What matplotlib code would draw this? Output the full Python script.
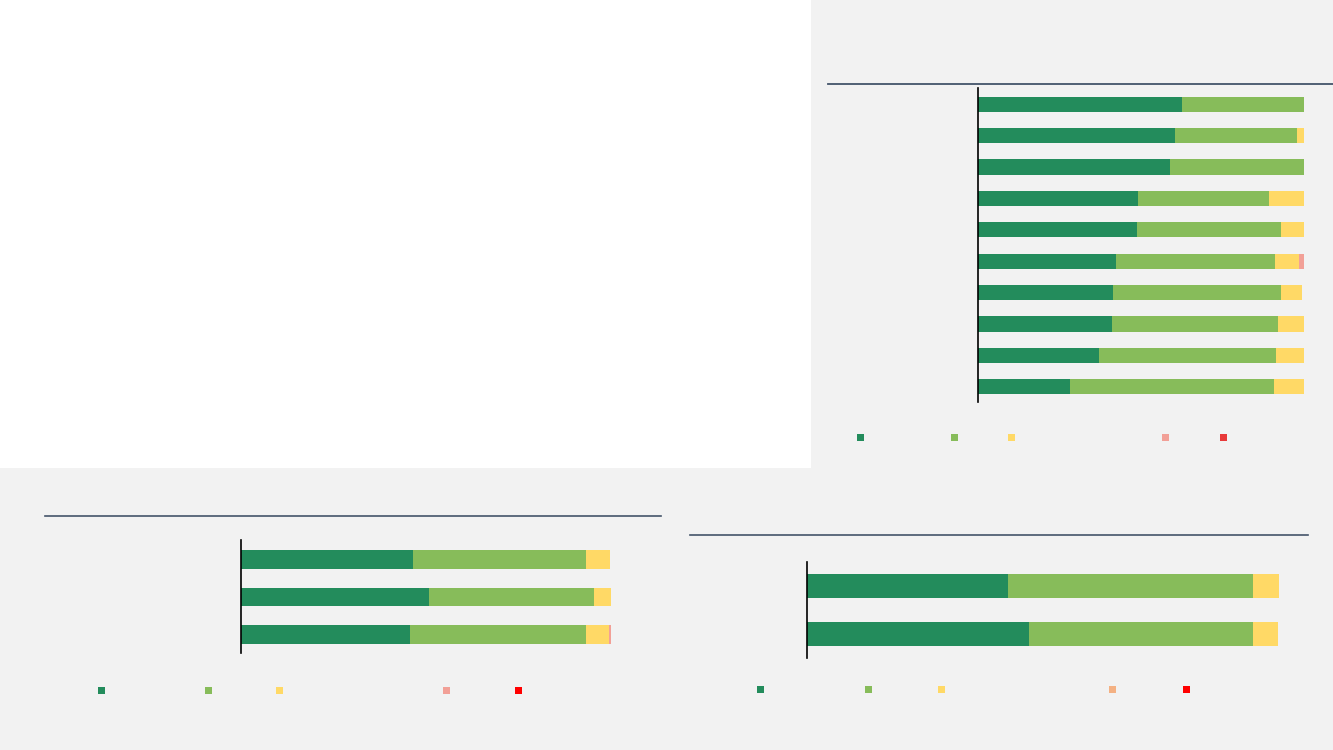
import matplotlib
matplotlib.use("Agg")
import matplotlib.pyplot as plt
from matplotlib.patches import Rectangle
from matplotlib.lines import Line2D
import numpy as np

W, H = 1333, 750

# Share of responses per rating level (percent), one list per level
# Panel A: ten rows
a_very_good = [62.6, 60.4, 58.9, 49.1, 48.8, 42.3, 41.4, 41.1, 37.1, 28.2]
a_good      = [37.4, 37.5, 41.1, 40.2, 44.2, 48.9, 51.5, 51.0, 54.3, 62.6]
a_neutral   = [0.0, 2.1, 0.0, 10.7, 7.0, 7.3, 6.5, 7.9, 8.6, 9.2]
a_poor      = [0.0, 0.0, 0.0, 0.0, 0.0, 1.5, 0.0, 0.0, 0.0, 0.0]
a_very_poor = [0.0] * 10

# Panel B: three rows
b_very_good = [46.5, 50.8, 45.7]
b_good      = [47.0, 44.6, 47.8]
b_neutral   = [6.3, 4.6, 6.0]
b_poor      = [0.0, 0.0, 0.5]
b_very_poor = [0.0, 0.0, 0.0]

# Panel C: two rows
c_very_good = [42.6, 46.9]
c_good      = [51.8, 47.5]
c_neutral   = [5.6, 5.3]
c_poor      = [0.0, 0.0]
c_very_poor = [0.0, 0.0]

DARK = "#238c5c"
GREEN = "#87bc5a"
YELLOW = "#ffd966"
BG = "#f2f2f2"
RULE = "#44546a"

fig = plt.figure(figsize=(W / 100, H / 100), dpi=100, facecolor=BG)


def fx(x):
    return x / W


def fy(y):
    return 1 - y / H


# white panel in the upper-left corner
fig.add_artist(Rectangle((0, fy(468)), fx(811), 468 / H, transform=fig.transFigure,
                         facecolor="white", edgecolor="none", zorder=0))


def stacked_panel(rect_px, series, colors, bar_h):
    x0, y0, x1, y1 = rect_px
    ax = fig.add_axes([fx(x0), fy(y1), fx(x1) - fx(x0), (y1 - y0) / H])
    ax.set_facecolor("none")
    n = len(series[0])
    pos = np.arange(n)
    left = np.zeros(n)
    for vals, col in zip(series, colors):
        vals = np.asarray(vals, dtype=float)
        ax.barh(pos, vals, left=left, height=bar_h, color=col, edgecolor="none")
        left += vals
    ax.set_xlim(0, 100)
    ax.set_ylim(n - 0.5, -0.5)
    for s in ["top", "right", "bottom"]:
        ax.spines[s].set_visible(False)
    ax.spines["left"].set_color("black")
    ax.spines["left"].set_linewidth(1.2)
    ax.set_xticks([])
    ax.set_yticks([])
    return ax


def rule(x0, x1, y, lw=1.3):
    fig.add_artist(Line2D([fx(x0), fx(x1)], [fy(y), fy(y)], transform=fig.transFigure,
                          color=RULE, linewidth=lw))


def legend_squares(xs, y, colors, size=7):
    for x, c in zip(xs, colors):
        fig.add_artist(Rectangle((fx(x - size / 2), fy(y + size / 2)), size / W, size / H,
                                 transform=fig.transFigure, facecolor=c, edgecolor="none"))


# Panel A (upper right)
cols_a = [DARK, GREEN, YELLOW, "#f2a097", "#e83a3a"]
stacked_panel((978, 88.5, 1304, 402.5),
              [a_very_good, a_good, a_neutral, a_poor, a_very_poor], cols_a, 0.48)
rule(828, 1333, 84)
legend_squares([860.5, 954, 1011, 1165.5, 1223.5], 437.5, cols_a)

# Panel B (lower left)
cols_b = [DARK, GREEN, YELLOW, "#f2a097", "#ff0000"]
stacked_panel((241, 540.5, 610.5, 653.5),
              [b_very_good, b_good, b_neutral, b_poor, b_very_poor], cols_b, 0.49)
rule(45, 661, 515.5, lw=1.2)
legend_squares([101.5, 208.5, 279, 446.5, 518.5], 690.5, cols_b)

# Panel C (lower right)
cols_c = [DARK, GREEN, YELLOW, "#f4b183", "#ff0000"]
stacked_panel((807.5, 562, 1279, 658),
              [c_very_good, c_good, c_neutral, c_poor, c_very_poor], cols_c, 0.5)
rule(690, 1308, 535, lw=1.2)
legend_squares([760, 869, 941.5, 1112.5, 1186], 689, cols_c)

fig.savefig("out.png", dpi=100, facecolor=BG)
